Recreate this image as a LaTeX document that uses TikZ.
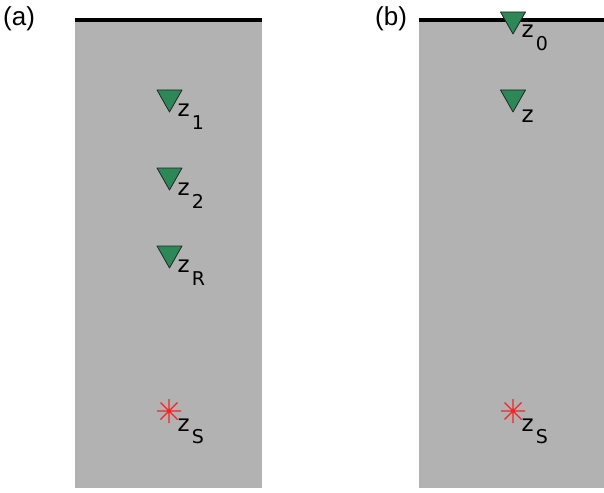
\documentclass[tikz,border=0pt]{standalone}
\usepackage{fontspec}
\setmainfont{DejaVu Sans}
\newfontfamily\panelfont{Liberation Sans}
\definecolor{earth}{RGB}{178,178,178}
\definecolor{rcvgreen}{RGB}{44,136,86}
\definecolor{srcred}{RGB}{245,35,35}
\newcommand{\zlab}[2][13pt]{z\hspace{2pt}\raisebox{-#1}{\fontsize{19}{19}\selectfont #2}}
\tikzset{
  earthbox/.style={fill=earth, draw=none},
  surface/.style={line width=4pt, black},
  rcvstyle/.style={fill=rcvgreen, draw=black!85, line width=0.8pt, line join=round},
  srcstyle/.style={draw=srcred, line width=1.1pt},
  lbl/.style={anchor=base west, inner sep=0pt, font=\fontsize{23}{23}\selectfont},
  panel/.style={anchor=base west, inner sep=0pt, font=\panelfont\fontsize{26}{26}\selectfont},
  rcv/.pic={\draw[rcvstyle] (-12.5,0) -- (12.5,0) -- (0,22) -- cycle;},
  src/.pic={
    \draw[srcstyle] (-12,0) -- (12,0) (0,-12) -- (0,12)
      (-8.5,-8.5) -- (8.5,8.5) (-8.5,8.5) -- (8.5,-8.5);
    \fill[srcred] (0,0) circle (2);
  }
}
\begin{document}
\begin{tikzpicture}[x=1pt, y=-1pt]
\useasboundingbox (0,0) rectangle (604,492);
% panel (a)
\fill[earthbox] (75,20) rectangle (262,488);
\coordinate (aL) at (75,20);
\coordinate (aR) at (262,20);
\draw[surface] (aL) -- (aR);
\node[panel] (pa) at (3,26) {(a)};
\pic at (169.5,90) {rcv};
\pic at (169.5,168) {rcv};
\pic at (169.5,246) {rcv};
\node[lbl] (z1) at (177.5,117) {\zlab{1}};
\node[lbl] (z2) at (177.5,195) {\zlab{2}};
\node[lbl] (zR) at (177.5,272) {\zlab{R}};
\pic at (169,411) {src};
\node[lbl] (zSa) at (177.5,431) {\zlab[12pt]{S}};
% panel (b)
\fill[earthbox] (419,20) rectangle (604,488);
\coordinate (bL) at (419,20);
\coordinate (bR) at (604,20);
\draw[surface] (bL) -- (bR);
\node[panel] (pb) at (375,26) {(b)};
\pic at (513,12) {rcv};
\pic at (513,90) {rcv};
\node[lbl] (z0) at (521.5,38) {\zlab{0}};
\node[lbl] (z) at (521.5,122) {z};
\pic at (513,411) {src};
\node[lbl] (zSb) at (521.5,431) {\zlab[12pt]{S}};
\end{tikzpicture}
\end{document}
